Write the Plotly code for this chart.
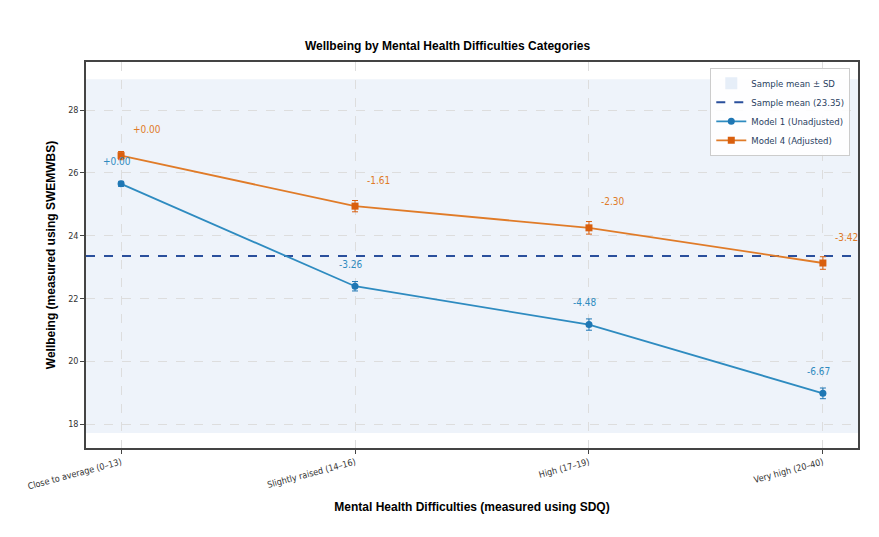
import plotly.graph_objects as go

categories = ["Close to average (0–13)", "Slightly raised (14–16)", "High (17–19)", "Very high (20–40)"]
m1 = [25.65, 22.39, 21.17, 18.98]
m1_err = [0.08, 0.15, 0.18, 0.17]
m1_lab = ["+0.00", "-3.26", "-4.48", "-6.67"]
m4 = [26.55, 24.94, 24.25, 23.13]
m4_err = [0.13, 0.18, 0.2, 0.2]
m4_lab = ["+0.00", "-1.61", "-2.30", "-3.42"]
sample_mean = 23.35
sample_sd = 5.63

BLUE = "#2e8bc0"
ORANGE = "#e07b28"
x = list(range(len(categories)))

fig = go.Figure()
fig.add_trace(go.Scatter(x=[None], y=[None], mode="markers", name="Sample mean ± SD",
                         marker=dict(symbol="square", size=12, color="#e6eef8")))
fig.add_trace(go.Scatter(x=[-0.15, 3.15], y=[sample_mean]*2, mode="lines", name="Sample mean (23.35)",
                         line=dict(color="#2a4f9c", width=2, dash="dash")))
fig.add_trace(go.Scatter(x=x, y=m1, mode="lines+markers", name="Model 1 (Unadjusted)",
                         line=dict(color=BLUE, width=1.8), marker=dict(color="#1f77b4", size=7),
                         error_y=dict(type="data", array=m1_err, color="#1f77b4", thickness=1, width=3)))
fig.add_trace(go.Scatter(x=x, y=m4, mode="lines+markers", name="Model 4 (Adjusted)",
                         line=dict(color=ORANGE, width=1.8), marker=dict(color="#d95f0e", size=7, symbol="square"),
                         error_y=dict(type="data", array=m4_err, color="#d95f0e", thickness=1, width=3)))

fig.add_shape(type="rect", xref="paper", yref="y", x0=0, x1=1,
              y0=sample_mean - sample_sd, y1=sample_mean + sample_sd,
              fillcolor="#eef3fa", line_width=0, layer="below")

for i in x:
    fig.add_annotation(x=i, y=m1[i], text=m1_lab[i], showarrow=False, xshift=-4, yshift=22,
                       font=dict(color=BLUE, size=10, family="DejaVu Sans Condensed, Liberation Sans Narrow"))
    fig.add_annotation(x=i, y=m4[i], text=m4_lab[i], showarrow=False, xanchor="left", xshift=10, yshift=26,
                       font=dict(color=ORANGE, size=10, family="DejaVu Sans Condensed, Liberation Sans Narrow"))

fig.update_layout(
    width=879, height=537, margin=dict(l=78, r=29, t=54, b=97, autoexpand=False),
    paper_bgcolor="white", plot_bgcolor="white",
    title=dict(text="<b>Wellbeing by Mental Health Difficulties Categories</b>", x=0.5, xanchor="center",
               y=0.93, yanchor="middle", font=dict(size=12, family="Liberation Sans", color="black")),
    legend=dict(x=0.99, y=0.985, xanchor="right", yanchor="top", bgcolor="rgba(255,255,255,0.9)",
                bordercolor="#cccccc", borderwidth=1, font=dict(size=9.5, family="DejaVu Sans Condensed"),
                tracegroupgap=0, itemwidth=30),
    font=dict(family="DejaVu Sans Condensed"),
)
fig.update_xaxes(tickmode="array", tickvals=x, ticktext=categories, range=[-0.15, 3.15], tickangle=-15,
                 automargin=False,
                 showgrid=True, gridcolor="#dddddd", griddash="dash", zeroline=False,
                 showline=True, linecolor="#444", mirror=True, linewidth=1.5, ticks="outside", ticklen=4,
                 tickfont=dict(size=9, color="#333"),
                 title=dict(text="<b>Mental Health Difficulties (measured using SDQ)</b>",
                            font=dict(size=12, family="Liberation Sans", color="black"), standoff=12))
fig.update_yaxes(range=[17.24, 29.53], tickvals=[18, 20, 22, 24, 26, 28], automargin=False,
                 showgrid=True, gridcolor="#dddddd", griddash="dash", zeroline=False,
                 showline=True, linecolor="#444", mirror=True, linewidth=1.5, ticks="outside", ticklen=4,
                 tickfont=dict(size=9, color="#333"),
                 title=dict(text="<b>Wellbeing (measured using SWEMWBS)</b>",
                            font=dict(size=12, family="Liberation Sans", color="black"), standoff=10))
fig.write_html("out.html")
